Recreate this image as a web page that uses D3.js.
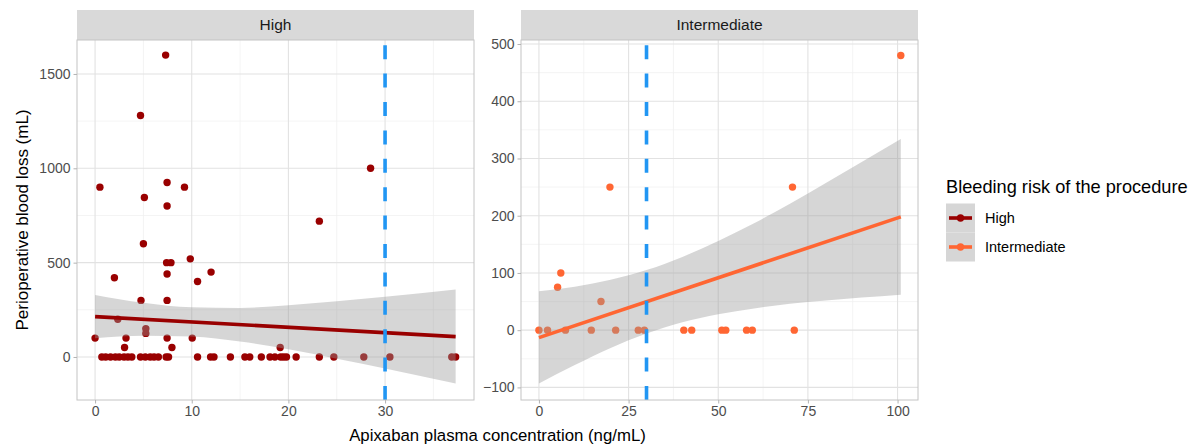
<!DOCTYPE html>
<html>
<head>
<meta charset="utf-8">
<script src="https://cdn.jsdelivr.net/npm/d3@7"></script>
<style>
  body { margin: 0; background: #fff; }
  text { font-family: "Liberation Sans", Arial, sans-serif; }
</style>
</head>
<body>
<div id="chart"></div>
<script>
// ---- data ----
var panelNames = ["High", "Intermediate"];
var threshold = 30;

var highX = [7.3, 4.7, 28.5, 0.5, 7.45, 9.25, 5.1, 7.45, 23.2, 5.0, 9.85, 7.4, 7.85, 12.0, 7.45, 2.0, 10.6, 4.75, 7.45,
    2.35, 5.25, 5.25, 0, 3.2, 7.45, 10.05, 3.05, 7.95, 19.15,
    0.7, 1.1, 1.6, 2.1, 2.5, 3.0, 3.4, 3.8, 4.7, 5.2, 5.7, 6.1, 6.55, 7.35, 7.6, 10.6, 11.95, 12.3, 14.0,
    15.5, 16.0, 17.2, 18.1, 18.6, 19.2, 19.5, 19.8, 20.8, 23.2, 24.7, 27.8, 30.5, 36.9, 37.3];
var highY = [1600, 1280, 1000, 900, 925, 900, 845, 800, 720, 600, 520, 500, 500, 450, 440, 420, 400, 300, 300,
    200, 150, 125, 100, 100, 100, 100, 50, 50, 50,
    0, 0, 0, 0, 0, 0, 0, 0, 0, 0, 0, 0, 0, 0, 0, 0, 0, 0, 0,
    0, 0, 0, 0, 0, 0, 0, 0, 0, 0, 0, 0, 0, 0, 0];

var interX = [0, 2.4, 7.4, 14.6, 21.4, 27.7, 29.4, 40.4, 42.6, 51.0, 52.1, 57.9, 59.5, 71.2, 17.3, 5.2, 6.1, 19.8, 70.7, 100.9];
var interY = [0, 0, 0, 0, 0, 0, 0, 0, 0, 0, 0, 0, 0, 0, 50, 75, 100, 250, 250, 480];

// linear fit + confidence band, read at a few x positions
var highBandX = [0, 5, 10, 15, 20, 25, 30, 37.3];
var highBandLo = [99, 112, 109, 82, 41, -9, -61, -141];
var highBandHi = [329, 287, 263, 260, 274, 295, 319, 357];
var highFitX = [0, 37.3];
var highFitY = [214, 108];

var interBandX = [0, 10, 20, 30, 40, 50, 60, 70, 80, 90, 100.9];
var interBandLo = [-93, -61, -31, -6, 14, 28, 38, 46, 52, 57, 62];
var interBandHi = [68, 76, 88, 105, 128, 156, 187, 221, 257, 294, 334];
var interFitX = [0, 100.9];
var interFitY = [-13, 198];

var highXTicks = [0, 10, 20, 30];
var highYTicks = [0, 500, 1000, 1500];
var interXTicks = [0, 25, 50, 75, 100];
var interYTicks = [-100, 0, 100, 200, 300, 400, 500];

var colors = {High: "#990000", Intermediate: "#FF6633"};

// ---- layout ----
var width = 1198, height = 447;
var panelTop = 40, panelBottom = 400, stripTop = 10;

var svg = d3.select("#chart")
    .append("svg")
        .attr("width", width)
        .attr("height", height);

svg.append("rect").attr("width", width).attr("height", height).attr("fill", "#fff");

function zip(xs, ys) {
    return xs.map(function(x, i) { return {x: x, y: ys[i]}; });
}

var panels = [
    {
        name: panelNames[0], left: 77, right: 474,
        xDomain: [-1.87, 39.2], yDomain: [-228, 1680],
        xTicks: highXTicks, yTicks: highYTicks, xStep: 5, yStep: 250,
        points: zip(highX, highY),
        band: highBandX.map(function(x, i) { return {x: x, lo: highBandLo[i], hi: highBandHi[i]}; }),
        fit: zip(highFitX, highFitY)
    },
    {
        name: panelNames[1], left: 521, right: 918,
        xDomain: [-5.0, 105.7], yDomain: [-122, 507],
        xTicks: interXTicks, yTicks: interYTicks, xStep: 12.5, yStep: 50,
        points: zip(interX, interY),
        band: interBandX.map(function(x, i) { return {x: x, lo: interBandLo[i], hi: interBandHi[i]}; }),
        fit: zip(interFitX, interFitY)
    }
];

panels.forEach(function(p) {
    var x = d3.scaleLinear().domain(p.xDomain).range([p.left, p.right]);
    var y = d3.scaleLinear().domain(p.yDomain).range([panelBottom, panelTop]);
    var g = svg.append("g");

    // strip
    g.append("rect")
        .attr("x", p.left).attr("y", stripTop)
        .attr("width", p.right - p.left).attr("height", panelTop - stripTop)
        .attr("fill", "#d9d9d9");
    g.append("text")
        .attr("x", (p.left + p.right) / 2)
        .attr("y", (stripTop + panelTop) / 2)
        .attr("dy", "0.35em")
        .attr("text-anchor", "middle")
        .style("font-size", "15.5px")
        .attr("fill", "#1a1a1a")
        .text(p.name);

    // grid, minor then major
    var xMinor = d3.range(Math.ceil(p.xDomain[0] / p.xStep) * p.xStep, p.xDomain[1], p.xStep)
        .filter(function(v) { return p.xTicks.indexOf(v) < 0; });
    var yMinor = d3.range(Math.ceil(p.yDomain[0] / p.yStep) * p.yStep, p.yDomain[1], p.yStep)
        .filter(function(v) { return p.yTicks.indexOf(v) < 0; });

    g.selectAll(".xminor").data(xMinor).enter().append("line")
        .attr("x1", x).attr("x2", x).attr("y1", panelTop).attr("y2", panelBottom)
        .attr("stroke", "#efefef").attr("stroke-width", 0.7);
    g.selectAll(".yminor").data(yMinor).enter().append("line")
        .attr("y1", y).attr("y2", y).attr("x1", p.left).attr("x2", p.right)
        .attr("stroke", "#efefef").attr("stroke-width", 0.7);
    g.selectAll(".xmajor").data(p.xTicks).enter().append("line")
        .attr("x1", x).attr("x2", x).attr("y1", panelTop).attr("y2", panelBottom)
        .attr("stroke", "#e2e2e2").attr("stroke-width", 1.1);
    g.selectAll(".ymajor").data(p.yTicks).enter().append("line")
        .attr("y1", y).attr("y2", y).attr("x1", p.left).attr("x2", p.right)
        .attr("stroke", "#e2e2e2").attr("stroke-width", 1.1);

    // points
    g.selectAll(".pt").data(p.points).enter().append("circle")
        .attr("cx", function(d) { return x(d.x); })
        .attr("cy", function(d) { return y(d.y); })
        .attr("r", 3.7)
        .attr("fill", colors[p.name]);

    // confidence band over the points
    var area = d3.area()
        .x(function(d) { return x(d.x); })
        .y0(function(d) { return y(d.lo); })
        .y1(function(d) { return y(d.hi); })
        .curve(d3.curveMonotoneX);
    g.append("path").datum(p.band)
        .attr("d", area)
        .attr("fill", "#999999")
        .attr("fill-opacity", 0.4);

    g.append("path").datum(p.fit)
        .attr("d", d3.line().x(function(d) { return x(d.x); }).y(function(d) { return y(d.y); }))
        .attr("fill", "none")
        .attr("stroke", colors[p.name])
        .attr("stroke-width", 3.6);

    // threshold, drawn bottom to top like ggplot
    g.append("path")
        .attr("d", "M" + x(threshold) + "," + panelBottom + "V" + panelTop)
        .attr("stroke", "#2196F3")
        .attr("stroke-width", 3.6)
        .attr("stroke-dasharray", "14 14.4");

    // panel border
    g.append("rect")
        .attr("x", p.left).attr("y", panelTop)
        .attr("width", p.right - p.left).attr("height", panelBottom - panelTop)
        .attr("fill", "none").attr("stroke", "#c4c4c4").attr("stroke-width", 1);

    // axes
    var xAxis = svg.append("g")
        .attr("transform", "translate(0," + panelBottom + ")")
        .call(d3.axisBottom(x).tickValues(p.xTicks).tickFormat(d3.format("d")).tickSize(3.5).tickPadding(3));
    var yAxis = svg.append("g")
        .attr("transform", "translate(" + p.left + ",0)")
        .call(d3.axisLeft(y).tickValues(p.yTicks).tickFormat(d3.format("d")).tickSize(3.5).tickPadding(3));
    [xAxis, yAxis].forEach(function(a) {
        a.select(".domain").remove();
        a.selectAll(".tick line").attr("stroke", "#b3b3b3");
        a.selectAll(".tick text")
            .attr("fill", "#4d4d4d")
            .style("font-size", "14px")
            .style("font-family", "'Liberation Sans', Arial, sans-serif");
    });
});

// axis titles
svg.append("text")
    .attr("x", (77 + 918) / 2)
    .attr("y", 441)
    .attr("text-anchor", "middle")
    .style("font-size", "16.8px")
    .text("Apixaban plasma concentration (ng/mL)");

svg.append("text")
    .attr("transform", "rotate(-90)")
    .attr("x", -(panelTop + panelBottom) / 2)
    .attr("y", 22)
    .attr("dy", "0.35em")
    .attr("text-anchor", "middle")
    .style("font-size", "17px")
    .text("Perioperative blood loss (mL)");

// legend
var legend = svg.append("g").attr("transform", "translate(946,0)");
legend.append("text")
    .attr("x", 0).attr("y", 193)
    .style("font-size", "18.2px")
    .text("Bleeding risk of the procedure");

panelNames.forEach(function(name, i) {
    var cy = 218 + i * 29;
    legend.append("rect")
        .attr("x", 0).attr("y", cy - 14.5)
        .attr("width", 29).attr("height", 29)
        .attr("fill", "#d6d6d6");
    legend.append("line")
        .attr("x1", 3).attr("x2", 26).attr("y1", cy).attr("y2", cy)
        .attr("stroke", colors[name]).attr("stroke-width", 3.6);
    legend.append("circle")
        .attr("cx", 14.5).attr("cy", cy).attr("r", 3.7)
        .attr("fill", colors[name]);
    legend.append("text")
        .attr("x", 39).attr("y", cy)
        .attr("dy", "0.35em")
        .style("font-size", "14.5px")
        .text(name);
});
</script>
</body>
</html>
